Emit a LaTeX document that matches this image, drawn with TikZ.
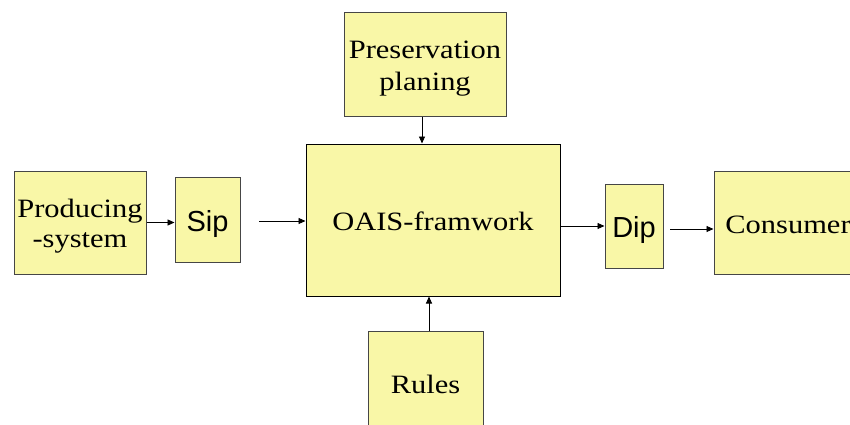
\documentclass[tikz,border=0pt]{standalone}
\usepackage{fontspec}
\setmainfont{Liberation Serif}[FakeStretch=1.15]
\newfontfamily\boxsans{Liberation Sans}
\usetikzlibrary{arrows.meta}
\definecolor{boxfill}{RGB}{249,247,167}
\definecolor{boxline}{RGB}{70,70,70}
\tikzset{
  blk/.style={draw=boxline, line width=1pt, fill=boxfill, inner sep=0pt, align=center,
    font=\fontsize{26.5}{30}\selectfont, text depth=0pt},
  sblk/.style={blk, font=\boxsans\fontsize{29}{33}\selectfont},
  conn/.style={line width=0.9pt, -{Triangle[length=7pt,width=6pt]}},
}
\begin{document}
\begin{tikzpicture}[x=1pt,y=-1pt]
\useasboundingbox (0,0) rectangle (850,425);
\clip (0,0) rectangle (850,425);
\node[blk, minimum width=132pt, minimum height=103pt, text height=49pt] (prod) at (80,222.5) {Producing\\-system};
\node[sblk, minimum width=65pt, minimum height=85pt, text height=23pt] (sip) at (207.5,219.5) {Sip};
\node[blk, draw=black, minimum width=254pt, minimum height=152pt, text height=21pt] (oais) at (433,220) {OAIS-framwork};
\node[blk, minimum width=162pt, minimum height=103pt, text height=52.5pt, font=\fontsize{26.5}{32}\selectfont] (pres) at (425,64.5) {Preservation\\planing};
\node[blk, minimum width=115pt, minimum height=104pt, text height=20pt] (rules) at (425.5,383) {Rules};
\node[sblk, minimum width=58pt, minimum height=84pt, text height=22pt] (dip) at (634,226) {Dip};
\node[blk, minimum width=148pt, minimum height=103pt, text height=21pt] (cons) at (788,222.5) {Consumer};
\coordinate (a1) at (259,221);
\coordinate (a2) at (670,229);
\draw[conn] (prod.east) -- (prod.east -| sip.west);
\draw[conn] (a1) -- (a1 -| oais.west);
\draw[conn] ([xshift=-3pt]pres.south) -- ([xshift=-3pt]pres.south |- oais.north);
\draw[conn] ([xshift=3.5pt]rules.north) -- ([xshift=3.5pt]rules.north |- oais.south);
\draw[conn] (dip.west -| oais.east) -- (dip.west);
\draw[conn] (a2) -- (a2 -| cons.west);
\end{tikzpicture}
\end{document}
